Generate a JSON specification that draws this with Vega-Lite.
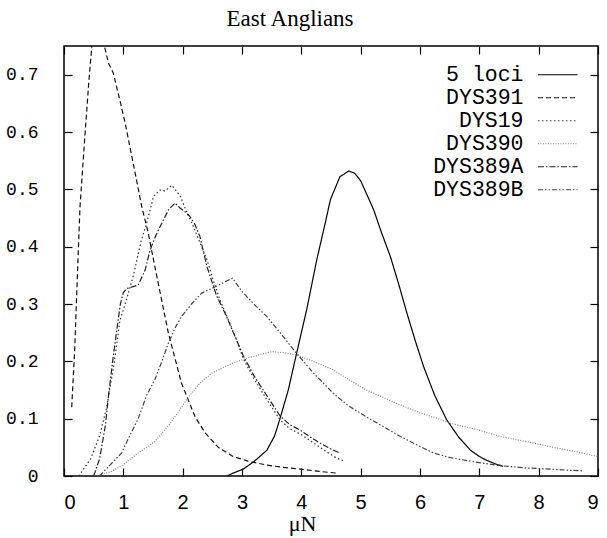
{
  "$schema": "https://vega.github.io/schema/vega-lite/v6.json",
  "width": 534,
  "height": 430,
  "autosize": {"type": "none"},
  "padding": {"left": 64, "top": 46, "right": 9, "bottom": 62},
  "background": "white",
  "title": {"text": "East Anglians", "font": "Liberation Serif", "fontSize": 23, "fontWeight": "normal", "color": "black", "anchor": "middle", "dx": -41, "offset": -31},
  "config": {
    "view": {"stroke": "black", "strokeWidth": 1.5},
    "axis": {"grid": false, "domain": false, "tickColor": "black", "labelColor": "black", "titleColor": "black", "tickSize": -8, "tickWidth": 1.2},
    "legend": {"title": null, "orient": "top-right", "offset": 18, "symbolType": "M-3.6,0H3.6", "symbolSize": 121, "symbolStrokeWidth": 1.2, "labelFont": "Liberation Mono", "labelFontSize": 21.5, "labelColor": "black", "labelAlign": "right", "labelOffset": -45, "rowPadding": 0, "padding": 0}
  },
  "data": {"values": [
    {"s":"5 loci","x":2.75,"y":0},{"s":"5 loci","x":2.85,"y":0.005},{"s":"5 loci","x":3.02,"y":0.012},{"s":"5 loci","x":3.2,"y":0.025},{"s":"5 loci","x":3.42,"y":0.045},{"s":"5 loci","x":3.55,"y":0.07},{"s":"5 loci","x":3.64,"y":0.1},{"s":"5 loci","x":3.78,"y":0.15},{"s":"5 loci","x":3.92,"y":0.214},{"s":"5 loci","x":4.09,"y":0.29},{"s":"5 loci","x":4.26,"y":0.377},{"s":"5 loci","x":4.4,"y":0.44},{"s":"5 loci","x":4.49,"y":0.482},{"s":"5 loci","x":4.65,"y":0.522},{"s":"5 loci","x":4.8,"y":0.532},{"s":"5 loci","x":4.9,"y":0.528},{"s":"5 loci","x":5.0,"y":0.515},{"s":"5 loci","x":5.1,"y":0.492},{"s":"5 loci","x":5.22,"y":0.464},{"s":"5 loci","x":5.35,"y":0.425},{"s":"5 loci","x":5.5,"y":0.383},{"s":"5 loci","x":5.64,"y":0.335},{"s":"5 loci","x":5.78,"y":0.284},{"s":"5 loci","x":5.92,"y":0.236},{"s":"5 loci","x":6.06,"y":0.191},{"s":"5 loci","x":6.25,"y":0.14},{"s":"5 loci","x":6.45,"y":0.098},{"s":"5 loci","x":6.65,"y":0.068},{"s":"5 loci","x":6.85,"y":0.045},{"s":"5 loci","x":7.0,"y":0.034},{"s":"5 loci","x":7.13,"y":0.027},{"s":"5 loci","x":7.3,"y":0.02},{"s":"5 loci","x":7.4,"y":0.017},
    {"s":"DYS391","x":0.13,"y":0.12},{"s":"DYS391","x":0.18,"y":0.22},{"s":"DYS391","x":0.24,"y":0.39},{"s":"DYS391","x":0.27,"y":0.47},{"s":"DYS391","x":0.35,"y":0.59},{"s":"DYS391","x":0.42,"y":0.69},{"s":"DYS391","x":0.47,"y":0.75},{"s":"DYS391","x":0.56,"y":0.83},{"s":"DYS391","x":0.67,"y":0.755},{"s":"DYS391","x":0.75,"y":0.72},{"s":"DYS391","x":0.83,"y":0.703},{"s":"DYS391","x":0.94,"y":0.656},{"s":"DYS391","x":1.03,"y":0.616},{"s":"DYS391","x":1.2,"y":0.528},{"s":"DYS391","x":1.31,"y":0.47},{"s":"DYS391","x":1.42,"y":0.424},{"s":"DYS391","x":1.48,"y":0.392},{"s":"DYS391","x":1.6,"y":0.33},{"s":"DYS391","x":1.76,"y":0.249},{"s":"DYS391","x":1.98,"y":0.162},{"s":"DYS391","x":2.21,"y":0.103},{"s":"DYS391","x":2.38,"y":0.075},{"s":"DYS391","x":2.6,"y":0.05},{"s":"DYS391","x":2.85,"y":0.034},{"s":"DYS391","x":3.1,"y":0.026},{"s":"DYS391","x":3.42,"y":0.019},{"s":"DYS391","x":3.7,"y":0.015},{"s":"DYS391","x":3.98,"y":0.012},{"s":"DYS391","x":4.3,"y":0.008},{"s":"DYS391","x":4.6,"y":0.005},
    {"s":"DYS19","x":0.25,"y":0},{"s":"DYS19","x":0.45,"y":0.03},{"s":"DYS19","x":0.6,"y":0.07},{"s":"DYS19","x":0.72,"y":0.12},{"s":"DYS19","x":0.85,"y":0.2},{"s":"DYS19","x":0.94,"y":0.27},{"s":"DYS19","x":1.06,"y":0.31},{"s":"DYS19","x":1.17,"y":0.35},{"s":"DYS19","x":1.3,"y":0.41},{"s":"DYS19","x":1.39,"y":0.44},{"s":"DYS19","x":1.51,"y":0.488},{"s":"DYS19","x":1.62,"y":0.499},{"s":"DYS19","x":1.7,"y":0.497},{"s":"DYS19","x":1.82,"y":0.507},{"s":"DYS19","x":1.96,"y":0.488},{"s":"DYS19","x":2.07,"y":0.46},{"s":"DYS19","x":2.18,"y":0.435},{"s":"DYS19","x":2.3,"y":0.405},{"s":"DYS19","x":2.41,"y":0.377},{"s":"DYS19","x":2.52,"y":0.34},{"s":"DYS19","x":2.63,"y":0.307},{"s":"DYS19","x":2.74,"y":0.28},{"s":"DYS19","x":2.9,"y":0.24},{"s":"DYS19","x":3.02,"y":0.205},{"s":"DYS19","x":3.2,"y":0.17},{"s":"DYS19","x":3.42,"y":0.133},{"s":"DYS19","x":3.64,"y":0.098},{"s":"DYS19","x":3.8,"y":0.083},{"s":"DYS19","x":4.0,"y":0.072},{"s":"DYS19","x":4.2,"y":0.058},{"s":"DYS19","x":4.4,"y":0.044},{"s":"DYS19","x":4.6,"y":0.031},{"s":"DYS19","x":4.7,"y":0.027},
    {"s":"DYS390","x":0.55,"y":0},{"s":"DYS390","x":0.8,"y":0.008},{"s":"DYS390","x":1.0,"y":0.02},{"s":"DYS390","x":1.25,"y":0.04},{"s":"DYS390","x":1.53,"y":0.06},{"s":"DYS390","x":1.8,"y":0.093},{"s":"DYS390","x":2.1,"y":0.138},{"s":"DYS390","x":2.29,"y":0.162},{"s":"DYS390","x":2.5,"y":0.18},{"s":"DYS390","x":2.85,"y":0.197},{"s":"DYS390","x":3.1,"y":0.206},{"s":"DYS390","x":3.5,"y":0.217},{"s":"DYS390","x":3.7,"y":0.215},{"s":"DYS390","x":3.92,"y":0.211},{"s":"DYS390","x":4.2,"y":0.2},{"s":"DYS390","x":4.54,"y":0.185},{"s":"DYS390","x":4.8,"y":0.168},{"s":"DYS390","x":5.1,"y":0.15},{"s":"DYS390","x":5.4,"y":0.136},{"s":"DYS390","x":5.67,"y":0.124},{"s":"DYS390","x":6.0,"y":0.11},{"s":"DYS390","x":6.23,"y":0.103},{"s":"DYS390","x":6.51,"y":0.092},{"s":"DYS390","x":7.0,"y":0.08},{"s":"DYS390","x":7.35,"y":0.069},{"s":"DYS390","x":7.8,"y":0.06},{"s":"DYS390","x":8.2,"y":0.051},{"s":"DYS390","x":8.6,"y":0.043},{"s":"DYS390","x":9.0,"y":0.034},
    {"s":"DYS389A","x":0.5,"y":0},{"s":"DYS389A","x":0.6,"y":0.03},{"s":"DYS389A","x":0.7,"y":0.09},{"s":"DYS389A","x":0.75,"y":0.14},{"s":"DYS389A","x":0.82,"y":0.2},{"s":"DYS389A","x":0.89,"y":0.255},{"s":"DYS389A","x":0.95,"y":0.3},{"s":"DYS389A","x":1.0,"y":0.32},{"s":"DYS389A","x":1.06,"y":0.327},{"s":"DYS389A","x":1.15,"y":0.33},{"s":"DYS389A","x":1.25,"y":0.333},{"s":"DYS389A","x":1.37,"y":0.36},{"s":"DYS389A","x":1.45,"y":0.394},{"s":"DYS389A","x":1.55,"y":0.42},{"s":"DYS389A","x":1.62,"y":0.435},{"s":"DYS389A","x":1.76,"y":0.464},{"s":"DYS389A","x":1.87,"y":0.476},{"s":"DYS389A","x":1.95,"y":0.468},{"s":"DYS389A","x":2.05,"y":0.46},{"s":"DYS389A","x":2.12,"y":0.453},{"s":"DYS389A","x":2.2,"y":0.44},{"s":"DYS389A","x":2.29,"y":0.418},{"s":"DYS389A","x":2.41,"y":0.365},{"s":"DYS389A","x":2.57,"y":0.315},{"s":"DYS389A","x":2.74,"y":0.278},{"s":"DYS389A","x":3.02,"y":0.21},{"s":"DYS389A","x":3.2,"y":0.175},{"s":"DYS389A","x":3.42,"y":0.14},{"s":"DYS389A","x":3.64,"y":0.105},{"s":"DYS389A","x":3.8,"y":0.09},{"s":"DYS389A","x":3.98,"y":0.08},{"s":"DYS389A","x":4.15,"y":0.068},{"s":"DYS389A","x":4.32,"y":0.057},{"s":"DYS389A","x":4.5,"y":0.047},{"s":"DYS389A","x":4.65,"y":0.04},
    {"s":"DYS389B","x":0.6,"y":0},{"s":"DYS389B","x":0.69,"y":0.01},{"s":"DYS389B","x":0.97,"y":0.04},{"s":"DYS389B","x":1.06,"y":0.06},{"s":"DYS389B","x":1.25,"y":0.1},{"s":"DYS389B","x":1.39,"y":0.14},{"s":"DYS389B","x":1.53,"y":0.168},{"s":"DYS389B","x":1.65,"y":0.2},{"s":"DYS389B","x":1.76,"y":0.232},{"s":"DYS389B","x":1.87,"y":0.258},{"s":"DYS389B","x":1.98,"y":0.278},{"s":"DYS389B","x":2.15,"y":0.3},{"s":"DYS389B","x":2.32,"y":0.319},{"s":"DYS389B","x":2.55,"y":0.33},{"s":"DYS389B","x":2.7,"y":0.338},{"s":"DYS389B","x":2.84,"y":0.345},{"s":"DYS389B","x":3.0,"y":0.322},{"s":"DYS389B","x":3.2,"y":0.3},{"s":"DYS389B","x":3.42,"y":0.278},{"s":"DYS389B","x":3.64,"y":0.25},{"s":"DYS389B","x":3.92,"y":0.214},{"s":"DYS389B","x":4.2,"y":0.18},{"s":"DYS389B","x":4.54,"y":0.144},{"s":"DYS389B","x":4.8,"y":0.122},{"s":"DYS389B","x":5.1,"y":0.103},{"s":"DYS389B","x":5.4,"y":0.085},{"s":"DYS389B","x":5.67,"y":0.069},{"s":"DYS389B","x":5.95,"y":0.054},{"s":"DYS389B","x":6.23,"y":0.04},{"s":"DYS389B","x":6.51,"y":0.032},{"s":"DYS389B","x":6.9,"y":0.025},{"s":"DYS389B","x":7.35,"y":0.018},{"s":"DYS389B","x":7.8,"y":0.014},{"s":"DYS389B","x":8.2,"y":0.012},{"s":"DYS389B","x":8.5,"y":0.01},{"s":"DYS389B","x":8.76,"y":0.009}
  ]},
  "layer": [
    {
      "mark": {"type": "line", "clip": true, "strokeWidth": 1.2},
      "encoding": {
        "x": {"field": "x", "type": "quantitative", "scale": {"domain": [0, 9], "nice": false, "zero": false},
              "axis": {"orient": "bottom", "values": [0,1,2,3,4,5,6,7,8,9], "labelFont": "Liberation Sans", "labelFontSize": 20, "labelPadding": 24, "title": "μN", "titleFont": "Liberation Serif", "titleFontSize": 22, "titleFontWeight": "normal", "titlePadding": 1, "titleX": 238}},
        "y": {"field": "y", "type": "quantitative", "scale": {"domain": [0, 0.75], "nice": false, "zero": false},
              "axis": {"orient": "left", "values": [0,0.1,0.2,0.3,0.4,0.5,0.6,0.7], "format": ".1~f", "labelFont": "Liberation Mono", "labelFontSize": 18, "labelPadding": 34, "title": null}},
        "color": {"field": "s", "type": "nominal", "scale": {"domain": ["5 loci","DYS391","DYS19","DYS390","DYS389A","DYS389B"], "range": ["#000000","#111111","#333333","#888888","#222222","#444444"]}},
        "strokeDash": {"field": "s", "type": "nominal", "scale": {"domain": ["5 loci","DYS391","DYS19","DYS390","DYS389A","DYS389B"], "range": [[1,0],[5,3],[1.5,2.5],[1,1.5],[6,2,1.5,2],[5,2,1.5,2,1.5,2]]}},
        "detail": {"field": "s"}
      }
    },
    {
      "mark": {"type": "line", "strokeOpacity": 0},
      "encoding": {
        "x": {"field": "x", "type": "quantitative", "axis": {"orient": "top", "values": [0,1,2,3,4,5,6,7,8,9], "labels": false, "title": null}},
        "y": {"field": "y", "type": "quantitative", "axis": {"orient": "right", "values": [0,0.1,0.2,0.3,0.4,0.5,0.6,0.7], "labels": false, "title": null}},
        "detail": {"field": "s"}
      }
    }
  ],
  "resolve": {"axis": {"x": "independent", "y": "independent"}}
}
